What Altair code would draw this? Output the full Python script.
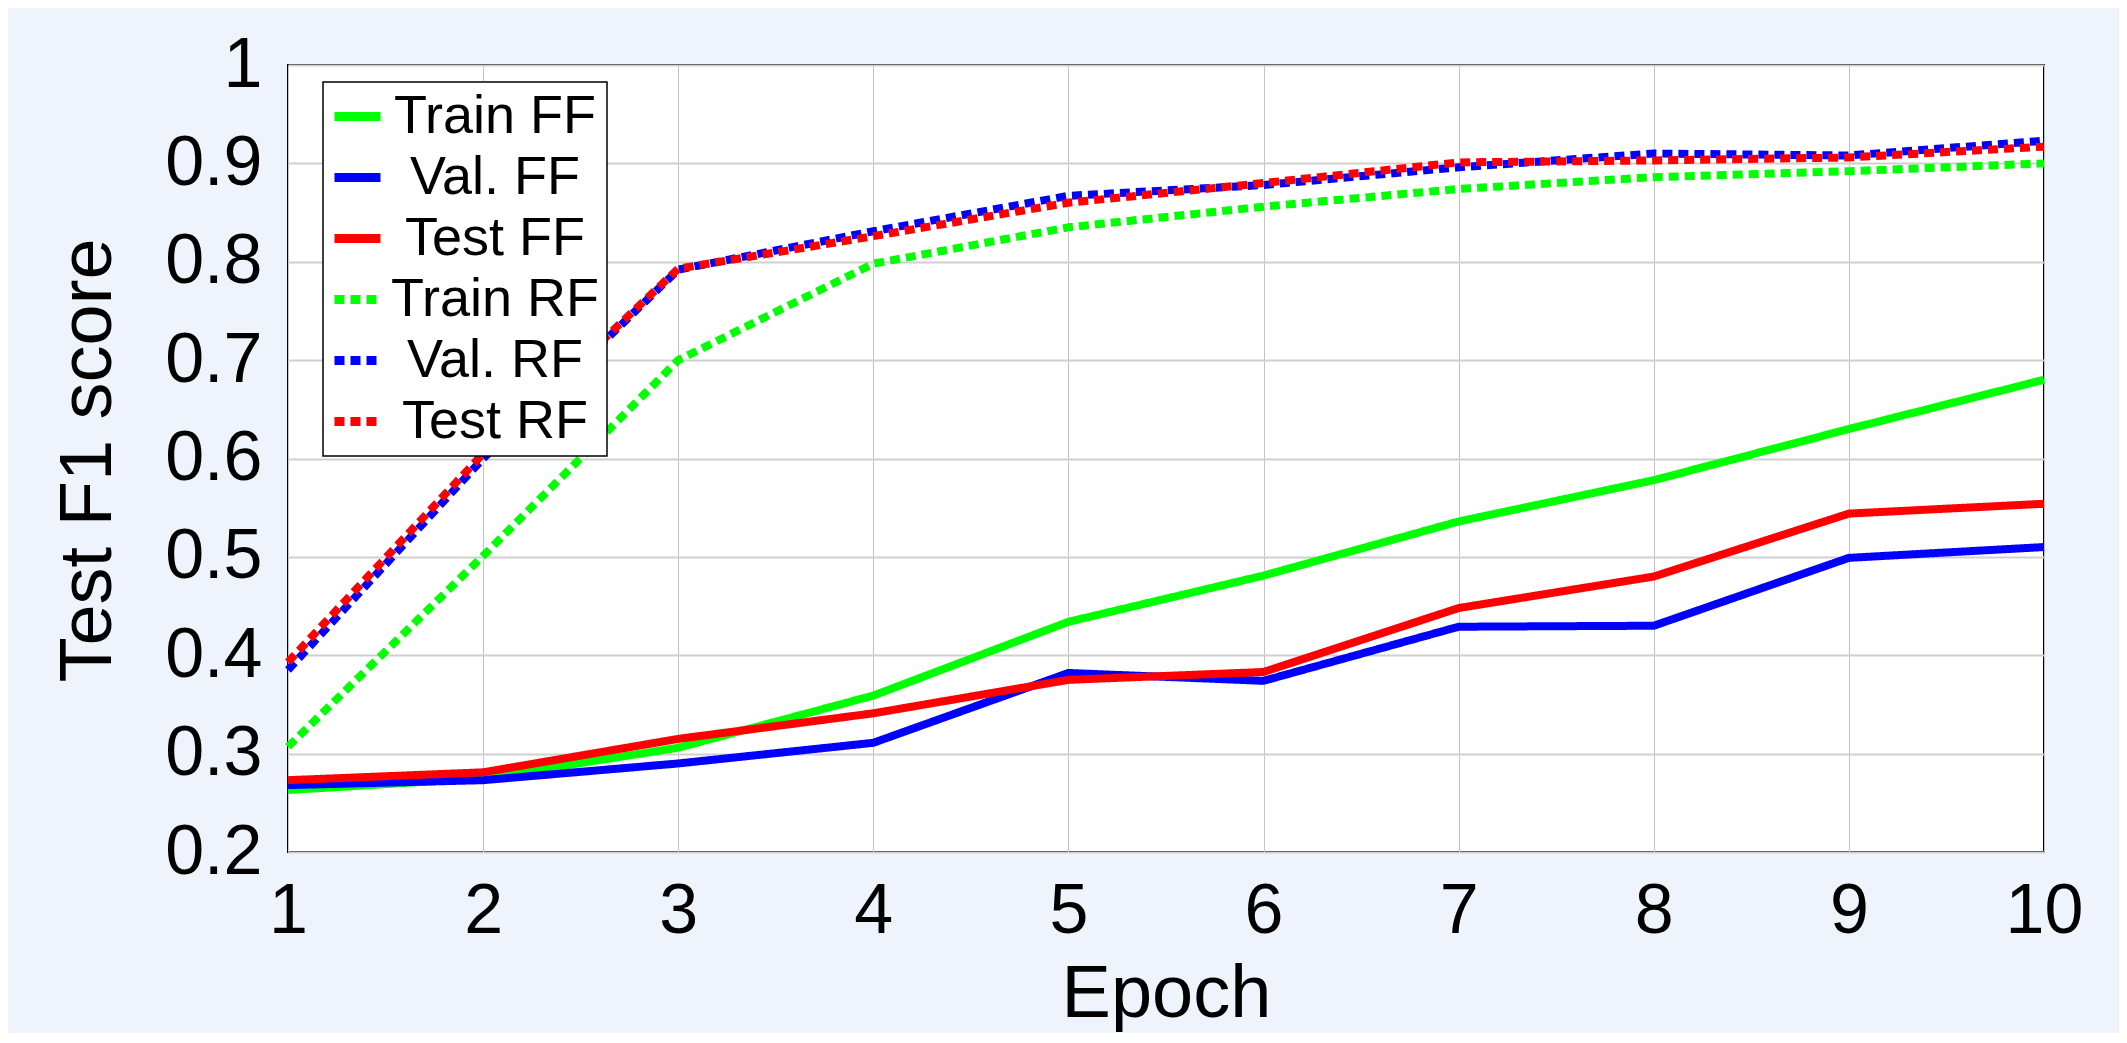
import altair as alt
import pandas as pd

epochs = [1, 2, 3, 4, 5, 6, 7, 8, 9, 10]
series_names = ["Train FF", "Val. FF", "Test FF", "Train RF", "Val. RF", "Test RF"]
series_colors = ["#00ff00", "#0000ff", "#ff0000", "#00ff00", "#0000ff", "#ff0000"]
series_dashes = [[1, 0], [1, 0], [1, 0], [10, 6], [10, 6], [10, 6]]

train_ff = [0.263, 0.275, 0.306, 0.359, 0.434, 0.481, 0.536, 0.578, 0.630, 0.680]
val_ff = [0.268, 0.273, 0.290, 0.311, 0.382, 0.374, 0.429, 0.430, 0.499, 0.510]
test_ff = [0.273, 0.281, 0.315, 0.341, 0.375, 0.383, 0.448, 0.480, 0.544, 0.554]
train_rf = [0.307, 0.501, 0.700, 0.798, 0.835, 0.856, 0.874, 0.886, 0.892, 0.900]
val_rf = [0.385, 0.600, 0.792, 0.831, 0.867, 0.878, 0.896, 0.910, 0.908, 0.923]
test_rf = [0.393, 0.605, 0.793, 0.826, 0.860, 0.880, 0.901, 0.903, 0.906, 0.917]

all_values = [train_ff, val_ff, test_ff, train_rf, val_rf, test_rf]

rows = []
for name, vals in zip(series_names, all_values):
    for e, v in zip(epochs, vals):
        rows.append({"series": name, "epoch": e, "score": v})
df = pd.DataFrame(rows)

font = "Liberation Sans"

legend_kw = dict(
    title=None,
    orient="none",
    legendX=35,
    legendY=17,
    fillColor="white",
    strokeColor="black",
    padding=7,
    labelFontSize=54,
    labelFont=font,
    labelColor="black",
    labelAlign="center",
    labelOffset=110,
    labelLimit=500,
    rowPadding=6,
    symbolType="stroke",
    symbolSize=2116,
    symbolStrokeWidth=9,
)

chart = (
    alt.Chart(df)
    .mark_line(strokeWidth=8, strokeCap="butt")
    .encode(
        x=alt.X(
            "epoch:Q",
            scale=alt.Scale(domain=[1, 10], nice=False),
            axis=alt.Axis(
                values=epochs,
                format="d",
                title="Epoch",
                titleY=164,
                titleBaseline="alphabetic",
                labelPadding=25,
                gridWidth=1,
                gridColor="#c4c4c4",
            ),
        ),
        y=alt.Y(
            "score:Q",
            scale=alt.Scale(domain=[0.2, 1.0], nice=False),
            axis=alt.Axis(
                values=[0.2, 0.3, 0.4, 0.5, 0.6, 0.7, 0.8, 0.9, 1.0],
                format=".1~f",
                title="Test F1 score",
                titleX=-178,
                titleY=395,
                titleBaseline="alphabetic",
                labelPadding=26,
                gridWidth=2,
                gridColor="#cfcfcf",
            ),
        ),
        color=alt.Color(
            "series:N",
            scale=alt.Scale(domain=series_names, range=series_colors),
            legend=alt.Legend(**legend_kw),
        ),
        strokeDash=alt.StrokeDash(
            "series:N",
            scale=alt.Scale(domain=series_names, range=series_dashes),
            legend=alt.Legend(**legend_kw),
        ),
    )
    .properties(
        width=1756,
        height=787,
        autosize=alt.AutoSizeParams(type="none"),
        padding={"left": 280, "top": 57, "right": 75, "bottom": 181},
        background="#eff3fb",
    )
    .configure_view(fill="white", stroke="black", strokeWidth=2)
    .configure_axis(
        labelFont=font,
        titleFont=font,
        labelFontSize=70,
        titleFontSize=74,
        labelColor="black",
        titleColor="black",
        titleFontWeight="normal",
        ticks=False,
        domain=False,
        grid=True,
        labelFlush=False,
        labelOverlap=False,
    )
    .configure_legend(strokeWidth=1.5)
)

chart.save("out.html", embed_options={"renderer": "svg", "actions": False})
